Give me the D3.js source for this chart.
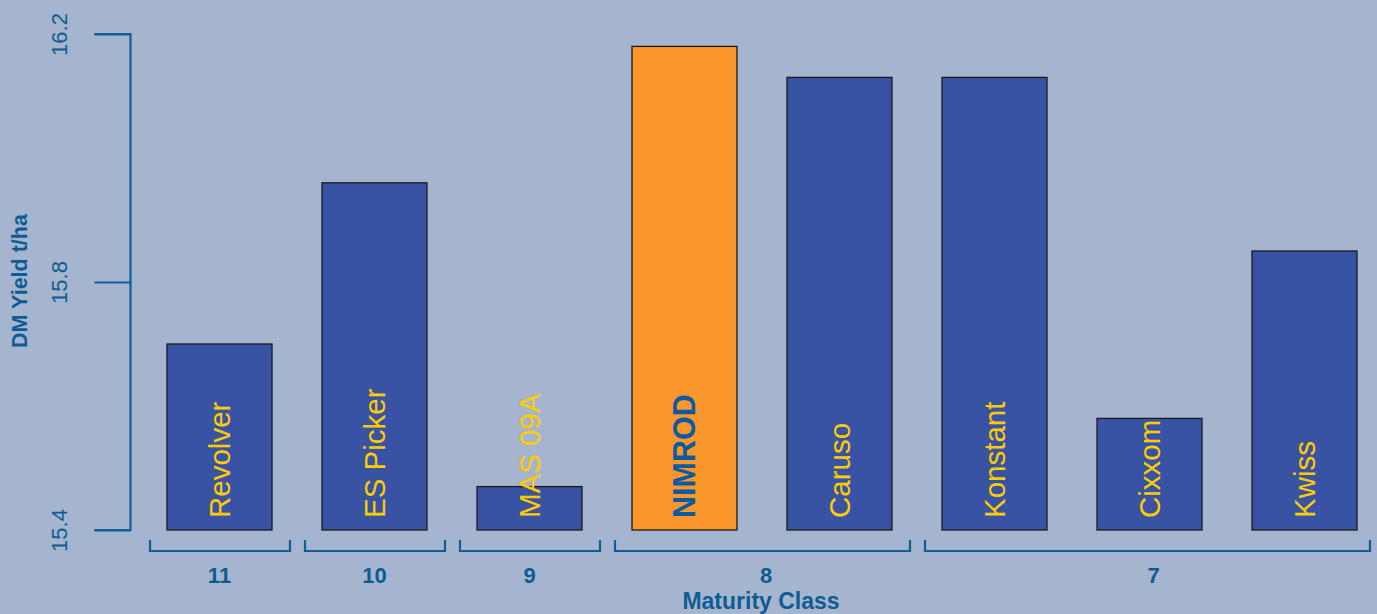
<!DOCTYPE html>
<html><head><meta charset="utf-8">
<script src="https://cdn.jsdelivr.net/npm/d3@7"></script>
<style>html,body{margin:0;padding:0;background:#a5b5cf;}svg{display:block;}</style>
</head><body>
<script>
const varieties = ["Revolver","ES Picker","MAS 09A","NIMROD","Caruso","Konstant","Cixxom","Kwiss"];
const yields = [15.70, 15.96, 15.47, 16.18, 16.13, 16.13, 15.58, 15.85];
const maturity = [11, 10, 9, 8, 8, 7, 7, 7];
const yTicks = [15.4, 15.8, 16.2];
const highlight = "NIMROD";

const W = 1377, H = 614;
const axisCol = "#115e94", textCol = "#0f5c93";
const svg = d3.select("body").append("svg").attr("width", W).attr("height", H);
svg.append("rect").attr("width", W).attr("height", H).attr("fill", "#a5b5cf");

const x = d3.scaleBand().domain(varieties).range([142, 1382]).paddingInner(50/155).paddingOuter(25/155);
const y = d3.scaleLinear().domain([15.4, 16.2]).range([530, 34]);
const font = "Liberation Sans, Arial, Helvetica, sans-serif";

// bars
svg.selectAll("rect.bar").data(varieties).join("rect")
  .attr("x", d => x(d)).attr("width", x.bandwidth())
  .attr("y", (d,i) => y(yields[i])).attr("height", (d,i) => y(15.4) - y(yields[i]))
  .attr("fill", d => d === highlight ? "#f9972c" : "#3953a4")
  .attr("stroke", "#1a1a1a").attr("stroke-width", 1.3);

// bar labels
svg.selectAll("text.bl").data(varieties).join("text")
  .attr("transform", d => `translate(${x(d) + x.bandwidth()/2},518) rotate(-90)`)
  .attr("dy", "0.36em")
  .attr("font-family", font)
  .attr("font-size", d => d === highlight ? 30.5 : 29.5)
  .attr("font-weight", d => d === highlight ? "bold" : "normal")
  .attr("fill", d => d === highlight ? "#0d5aa0" : "#ffcc00")
  .text(d => d);

// y axis
const yAxis = d3.axisLeft(y).tickValues(yTicks).tickSize(36).tickFormat(d3.format(".1f")).tickPadding(0);
const gy = svg.append("g").attr("transform", "translate(130.5,0)").call(yAxis);
gy.select(".domain").attr("stroke", axisCol).attr("stroke-width", 2.2).attr("d", `M-36,${y(16.2)}H0V${y(15.4)}H-36`);
gy.selectAll(".tick line").attr("stroke", axisCol).attr("stroke-width", 2.2);
gy.selectAll(".tick text").attr("fill", textCol).attr("font-family", font).attr("font-size", 22)
  .attr("transform", "translate(-71,0) rotate(-90)").attr("x", 0).attr("dy", "0.36em").attr("text-anchor", "middle");

svg.append("text").attr("transform", "translate(19,281) rotate(-90)").attr("dy", "0.36em")
  .attr("text-anchor", "middle").attr("font-family", font).attr("font-weight", "bold")
  .attr("font-size", 21.5).attr("fill", textCol).text("DM Yield t/ha");

// maturity groups
const groups = Array.from(new Set(maturity));
const gb = svg.append("g");
groups.forEach(g => {
  const members = varieties.filter((v,i) => maturity[i] === g);
  const x0 = x(members[0]) - 17;
  const x1 = Math.min(x(members[members.length-1]) + x.bandwidth() + 18, 1370);
  gb.append("path").attr("d", `M${x0},540V551H${x1}V540`).attr("fill", "none")
    .attr("stroke", axisCol).attr("stroke-width", 2.2);
  const cx = d3.mean(members, m => x(m) + x.bandwidth()/2) + (members.length > 1 ? 4 : 0);
  gb.append("text").attr("x", cx).attr("y", 583).attr("text-anchor", "middle")
    .attr("font-family", font).attr("font-weight", "bold").attr("font-size", 22)
    .attr("fill", textCol).text(g);
});

svg.append("text").attr("x", 761).attr("y", 609).attr("text-anchor", "middle")
  .attr("font-family", font).attr("font-weight", "bold").attr("font-size", 23)
  .attr("fill", textCol).text("Maturity Class");
</script>
</body></html>
